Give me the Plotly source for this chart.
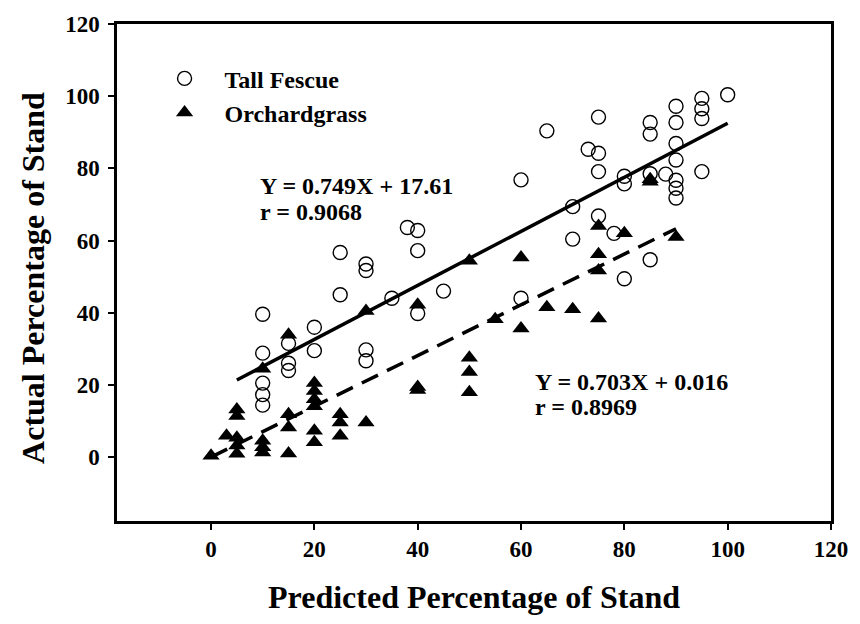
import numpy as np
import plotly.graph_objects as go

# Tall Fescue: predicted vs actual percentage of stand
fescue_x = [10, 10, 10, 10, 10, 15, 15, 15, 20, 20, 25, 25, 30, 30, 30, 30, 35,
            38, 40, 40, 40, 45, 60, 60, 65, 70, 70, 73, 75, 75, 75, 75, 78,
            80, 80, 80, 85, 85, 85, 85, 88, 90, 90, 90, 90, 90, 90, 90,
            95, 95, 95, 95, 100]
fescue_y = [39.6, 28.8, 20.5, 17.3, 14.4, 31.5, 26.0, 24.0, 36.0, 29.5, 56.7, 45.0,
            53.5, 51.7, 29.7, 26.7, 44.0, 63.6, 62.8, 57.2, 39.8, 46.0, 76.8, 44.0,
            90.4, 69.4, 60.4, 85.3, 94.2, 84.2, 79.1, 66.8, 62.0, 77.8, 75.7, 49.4,
            92.7, 89.5, 78.5, 54.7, 78.4, 97.2, 92.7, 86.9, 82.3, 76.7, 74.5, 71.8,
            99.4, 96.5, 93.8, 79.1, 100.4]

# Orchardgrass: predicted vs actual percentage of stand
orchard_x = [0, 3, 5, 5, 5, 5, 5, 10, 10, 10, 10, 15, 15, 15, 15,
             20, 20, 20, 20, 20, 20, 25, 25, 25, 30, 30, 40, 40, 40,
             50, 50, 50, 50, 55, 60, 60, 65, 70, 75, 75, 75, 75, 80, 85, 85, 90]
orchard_y = [0.4, 5.9, 13.2, 11.4, 5.4, 3.2, 0.9, 24.5, 4.5, 2.7, 1.3, 33.9, 11.9, 8.2, 1.0,
             20.5, 18.3, 16.0, 14.1, 7.3, 4.1, 11.9, 9.6, 5.9, 40.5, 9.6, 42.2, 19.4, 18.6,
             54.4, 27.5, 23.6, 18.0, 38.2, 55.3, 35.6, 41.5, 41.0, 64.0, 56.2, 51.7, 38.4,
             62.0, 77.0, 76.3, 61.0]

# Fitted regression lines (slope, intercept, x extent)
fescue_fit = (0.749, 17.61, [5, 100])
orchard_fit = (0.703, 0.016, [0, 90])

x_ticks = [0, 20, 40, 60, 80, 100, 120]
y_ticks = [0, 20, 40, 60, 80, 100, 120]

FONT = "Liberation Serif"

fig = go.Figure()

for (slope, icpt, ext), dash in [(fescue_fit, "solid"), (orchard_fit, "18px,10px")]:
    xs = np.array(ext, dtype=float)
    fig.add_trace(go.Scatter(
        x=xs, y=slope * xs + icpt, mode="lines",
        line=dict(color="black", width=3.5, dash=dash),
        showlegend=False, hoverinfo="skip"))

fig.add_trace(go.Scatter(
    x=fescue_x, y=fescue_y, mode="markers", name="<b>Tall Fescue</b>",
    marker=dict(symbol="circle-open", size=14, color="black", line=dict(width=1.4))))
fig.add_trace(go.Scatter(
    x=orchard_x, y=orchard_y, mode="markers", name="<b>Orchardgrass</b>",
    marker=dict(symbol="triangle-up", size=15, color="black", line=dict(width=0))))

eq_font = dict(family=FONT, size=24, color="black")
annos = [
    (9.0, 75.0, "<b>Y = 0.749X + 17.61</b>"),
    (9.0, 68.0, "<b>r = 0.9068</b>"),
    (62.3, 20.8, "<b>Y = 0.703X + 0.016</b>"),
    (62.3, 13.8, "<b>r = 0.8969</b>"),
]
for ax_x, ax_y, txt in annos:
    fig.add_annotation(x=ax_x, y=ax_y, text=txt, showarrow=False,
                       xanchor="left", yanchor="middle", font=eq_font)

title_font = dict(family=FONT, size=32, color="black")
fig.add_annotation(x=0.5, y=-0.152, xref="paper", yref="paper",
                   text="<b>Predicted Percentage of Stand</b>", showarrow=False,
                   xanchor="center", yanchor="middle", font=title_font)
fig.add_annotation(x=-0.117, y=0.49, xref="paper", yref="paper",
                   text="<b>Actual Percentage of Stand</b>", showarrow=False,
                   textangle=-90, xanchor="center", yanchor="middle", font=title_font)

axis_common = dict(
    showgrid=False, zeroline=False, showline=True, linecolor="black", linewidth=2.5,
    mirror=True, ticks="outside", ticklen=6, tickwidth=2, tickcolor="black",
    tickfont=dict(family=FONT, size=23, color="black"),
)
fig.update_xaxes(range=[-18.2, 120], tickvals=x_ticks,
                 ticktext=[f"<b>{v}</b>" for v in x_ticks], **axis_common)
fig.update_yaxes(range=[-17.7, 120], tickvals=y_ticks, ticklabelstandoff=4,
                 ticktext=[f"<b>{v}</b>" for v in y_ticks], **axis_common)

fig.update_layout(
    width=860, height=624,
    margin=dict(l=117, r=23, t=19, b=103),
    paper_bgcolor="white", plot_bgcolor="white",
    legend=dict(x=0.0386, y=0.935, xanchor="left", yanchor="top",
                bgcolor="rgba(0,0,0,0)", font=dict(family=FONT, size=24, color="black"),
                itemwidth=70, tracegroupgap=0),
    font=dict(family=FONT),
)

fig.write_html("out.html")
